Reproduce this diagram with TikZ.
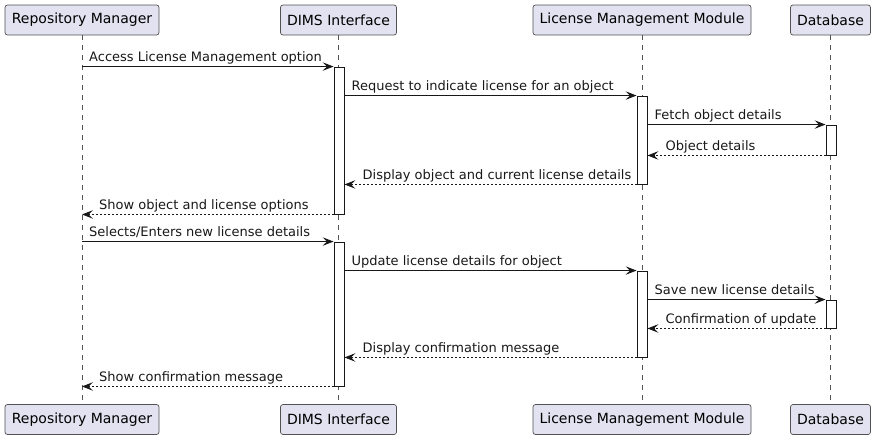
\documentclass[tikz,border=0pt]{standalone}
\usepackage{fontspec}
\setmainfont{DejaVu Sans}
\usetikzlibrary{arrows.meta}
\definecolor{boxfill}{HTML}{E2E2F0}
\definecolor{ink}{HTML}{181818}
\definecolor{lifeln}{HTML}{555555}
\tikzset{
  part/.style={draw=ink!75, fill=boxfill, rounded corners=2.5pt, line width=0.7pt,
    minimum height=30pt, inner sep=0pt, font=\fontsize{14pt}{16pt}\selectfont},
  life/.style={draw=lifeln, line width=0.6pt, dash pattern=on 5pt off 5pt},
  actbar/.style={draw=ink, fill=white, line width=0.9pt, minimum width=10pt, inner sep=0pt},
  msg/.style={draw=ink, line width=0.9pt, -{Stealth[length=11pt,width=8.5pt,inset=4.5pt]}},
  ret/.style={msg, dash pattern=on 2pt off 2pt},
  lbl/.style={font=\fontsize{13pt}{15pt}\selectfont, inner sep=0pt, anchor=base west, text=ink}
}
\begin{document}
\begin{tikzpicture}[x=1pt,y=-1pt]
\useasboundingbox (0,0) rectangle (876,440);
% participants
\node[part, minimum width=154pt] (rmT) at (82,20) {Repository Manager};
\node[part, minimum width=116pt] (diT) at (338.5,20) {DIMS Interface};
\node[part, minimum width=218pt] (lmT) at (642,20) {License Management Module};
\node[part, minimum width=80pt] (dbT) at (830.5,20) {Database};
\node[part, minimum width=154pt] (rmB) at (82,419.5) {Repository Manager};
\node[part, minimum width=116pt] (diB) at (338.5,419.5) {DIMS Interface};
\node[part, minimum width=218pt] (lmB) at (642,419.5) {License Management Module};
\node[part, minimum width=80pt] (dbB) at (830.5,419.5) {Database};
% lifelines
\draw[life] (rmT.south) -- (rmB.north);
\draw[life] (diT.south) -- (diB.north);
\draw[life] (lmT.south) -- (lmB.north);
\draw[life] (dbT.south) -- (dbB.north);
% activation bars
\node[actbar, minimum height=147pt] (dA1) at (339,140.5) {};
\node[actbar, minimum height=144pt] (dA2) at (339,314) {};
\node[actbar, minimum height=88pt] (lA1) at (642,140) {};
\node[actbar, minimum height=86pt] (lA2) at (642,314) {};
\node[actbar, minimum height=30pt] (bA1) at (831,140) {};
\node[actbar, minimum height=28pt] (bA2) at (831,314) {};
% messages, first round
\draw[msg] (rmT.south |- dA1.north) coordinate (s1) -- (dA1.north west);
\node[lbl] (t1) at ([xshift=7pt,yshift=5pt]s1) {Access License Management option};
\draw[msg] (dA1.east |- lA1.north) coordinate (s2) -- (lA1.north west);
\node[lbl] (t2) at ([xshift=7pt,yshift=5pt]s2) {Request to indicate license for an object};
\draw[msg] (lA1.east |- bA1.north) coordinate (s3) -- (bA1.north west);
\node[lbl] (t3) at ([xshift=7pt,yshift=5pt]s3) {Fetch object details};
\draw[ret] (bA1.south west) -- (lA1.east |- bA1.south) coordinate (e4);
\node[lbl] (t4) at ([xshift=18pt,yshift=5pt]e4) {Object details};
\draw[ret] (lA1.south west) -- (dA1.east |- lA1.south) coordinate (e5);
\node[lbl] (t5) at ([xshift=18pt,yshift=5pt]e5) {Display object and current license details};
\draw[ret] (dA1.south west) -- (rmT.south |- dA1.south) coordinate (e6);
\node[lbl] (t6) at ([xshift=17pt,yshift=5pt]e6) {Show object and license options};
% messages, second round
\draw[msg] (rmT.south |- dA2.north) coordinate (s7) -- (dA2.north west);
\node[lbl] (t7) at ([xshift=7pt,yshift=5pt]s7) {Selects/Enters new license details};
\draw[msg] (dA2.east |- lA2.north) coordinate (s8) -- (lA2.north west);
\node[lbl] (t8) at ([xshift=7pt,yshift=5pt]s8) {Update license details for object};
\draw[msg] (lA2.east |- bA2.north) coordinate (s9) -- (bA2.north west);
\node[lbl] (t9) at ([xshift=7pt,yshift=5pt]s9) {Save new license details};
\draw[ret] (bA2.south west) -- (lA2.east |- bA2.south) coordinate (e10);
\node[lbl] (t10) at ([xshift=18pt,yshift=5pt]e10) {Confirmation of update};
\draw[ret] (lA2.south west) -- (dA2.east |- lA2.south) coordinate (e11);
\node[lbl] (t11) at ([xshift=18pt,yshift=5pt]e11) {Display confirmation message};
\draw[ret] (dA2.south west) -- (rmT.south |- dA2.south) coordinate (e12);
\node[lbl] (t12) at ([xshift=17pt,yshift=5pt]e12) {Show confirmation message};
\end{tikzpicture}
\end{document}
